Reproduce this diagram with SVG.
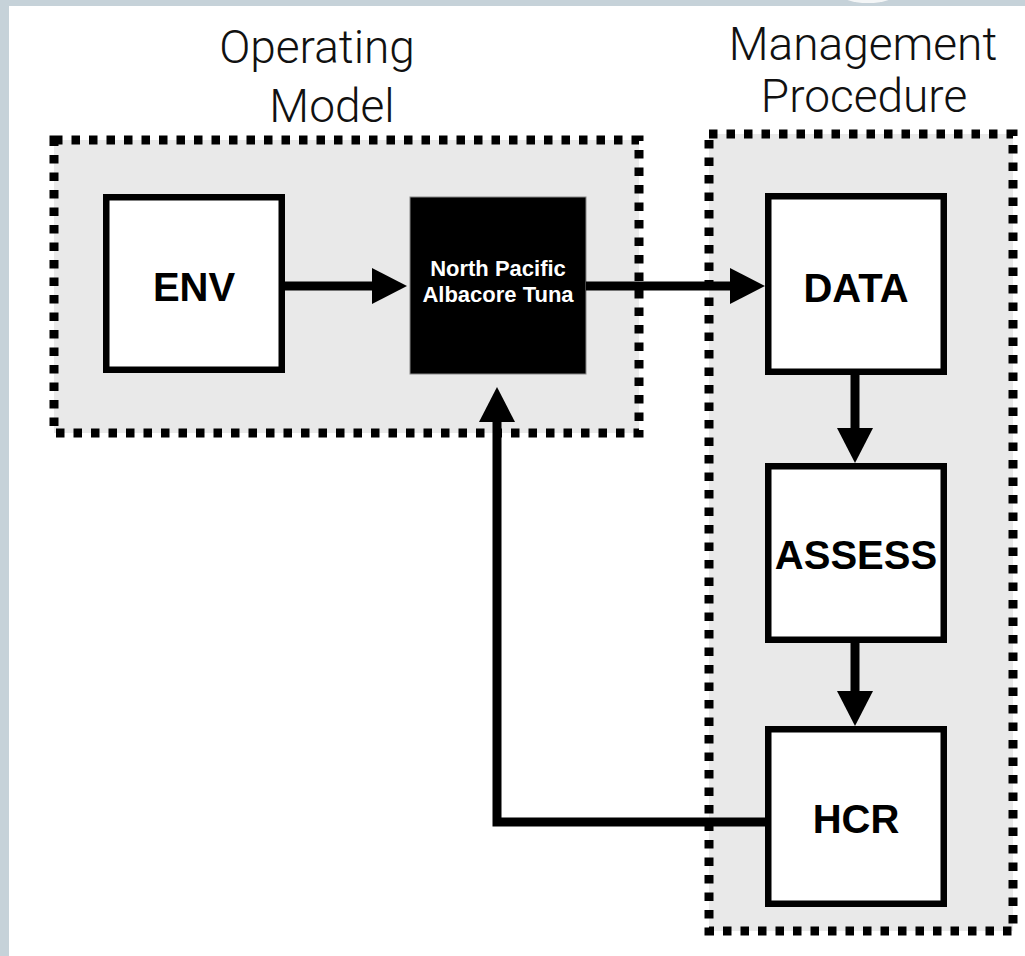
<svg xmlns="http://www.w3.org/2000/svg" width="1025" height="956" viewBox="0 0 1025 956">
  <style>
    .title { font-family: Roboto, "Liberation Sans", Arial, sans-serif; font-size: 46px; font-weight: 300; fill: #111; text-anchor: middle; }
    .group { fill: #e9e9e9; stroke: #000; stroke-width: 9; stroke-dasharray: 8.5 9; }
    .box { fill: #fff; stroke: #000; stroke-width: 6.5; }
    .lbl { font-family: "Liberation Sans", Arial, sans-serif; font-size: 40px; font-weight: bold; fill: #000; text-anchor: middle; }
    .lbl-w { font-family: "Liberation Sans", Arial, sans-serif; font-size: 22px; font-weight: bold; fill: #fff; text-anchor: middle; }
    .conn { fill: none; stroke: #000; stroke-width: 9; marker-end: url(#arrow); }
  </style>
  <defs>
    <marker id="arrow" markerUnits="userSpaceOnUse" viewBox="0 0 35 36" markerWidth="35" markerHeight="36" refX="0" refY="18" orient="auto">
      <path d="M0,0 L35,18 L0,36 Z" fill="#000"/>
    </marker>
  </defs>

  <rect x="0" y="0" width="1025" height="956" fill="#fff"/>
  <rect x="0" y="0" width="1025" height="6" fill="#c6d2d9"/>
  <rect x="0" y="0" width="9" height="956" fill="#c6d2d9"/>
  <ellipse cx="868" cy="-8" rx="30" ry="11" fill="#f4f6f7"/>

  <g id="title-operating-model">
    <text class="title" x="317" y="63">Operating</text>
    <text class="title" x="332" y="122">Model</text>
  </g>
  <g id="title-management-procedure">
    <text class="title" x="863" y="60">Management</text>
    <text class="title" x="864" y="112">Procedure</text>
  </g>

  <g id="group-operating-model">
    <rect class="group" x="54" y="140" width="585" height="293"/>
  </g>
  <g id="group-management-procedure">
    <rect class="group" x="709" y="134" width="304" height="797"/>
  </g>

  <g id="node-env">
    <rect class="box" x="106.25" y="197.25" width="175.5" height="172.5"/>
    <text class="lbl" x="194" y="301">ENV</text>
  </g>
  <g id="node-tuna">
    <rect x="410" y="197" width="176" height="177" fill="#000" stroke="#888" stroke-width="1"/>
    <text class="lbl-w" x="498" y="276">North Pacific</text>
    <text class="lbl-w" x="498" y="302">Albacore Tuna</text>
  </g>
  <g id="node-data">
    <rect class="box" x="768.25" y="196.25" width="175.5" height="175.5"/>
    <text class="lbl" x="856" y="302">DATA</text>
  </g>
  <g id="node-assess">
    <rect class="box" x="768.25" y="466.25" width="175.5" height="173.5"/>
    <text class="lbl" x="856" y="569">ASSESS</text>
  </g>
  <g id="node-hcr">
    <rect class="box" x="768.25" y="729.25" width="175.5" height="174.5"/>
    <text class="lbl" x="856" y="833">HCR</text>
  </g>

  <g id="connectors">
    <path class="conn" d="M285,286 H372"/>
    <path class="conn" d="M586,286 H730"/>
    <path class="conn" d="M855,375 V428"/>
    <path class="conn" d="M855,643 V691"/>
    <path class="conn" d="M765,822 H497 V422"/>
  </g>
</svg>
